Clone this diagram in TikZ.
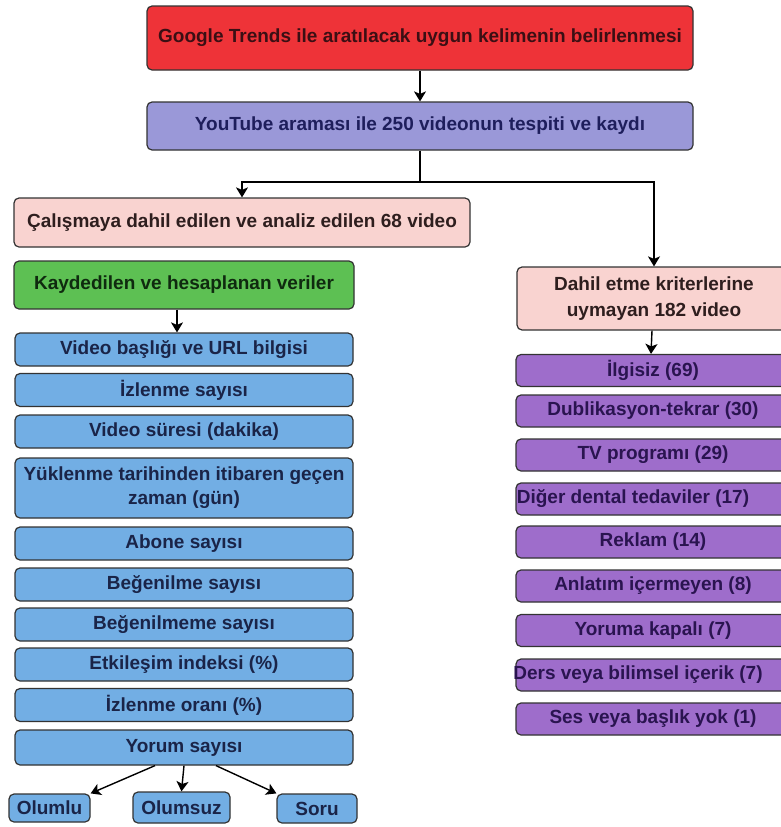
\documentclass[tikz,border=0pt]{standalone}
\usepackage{fontspec}
\setmainfont{Liberation Sans}
\usetikzlibrary{arrows.meta}

\definecolor{redfill}{HTML}{EE3338}
\definecolor{ytfill}{HTML}{9A98D8}
\definecolor{pinkfill}{HTML}{F9D3D0}
\definecolor{greenfill}{HTML}{5DC053}
\definecolor{bluefill}{HTML}{72AEE4}
\definecolor{purplefill}{HTML}{9E6DCB}
\definecolor{redtext}{HTML}{3B0F14}
\definecolor{yttext}{HTML}{1E1E5C}
\definecolor{pinktext}{HTML}{2E1E1E}
\definecolor{greentext}{HTML}{0F2A0F}
\definecolor{bluetext}{HTML}{1A2448}
\definecolor{purpletext}{HTML}{2A1450}

\begin{document}
\begin{tikzpicture}[x=1pt, y=-1pt,
        box/.style={draw=black!80, line width=1.2pt, rounded corners=5pt, align=center, inner sep=2pt,
            font=\fontsize{19}{24}\selectfont\bfseries},
        redbox/.style={box, fill=redfill, text=redtext, minimum width=546, minimum height=64},
        ytbox/.style={box, fill=ytfill, text=yttext, minimum width=546, minimum height=48},
        pinkbox/.style={box, fill=pinkfill, text=pinktext},
        greenbox/.style={box, fill=greenfill, text=greentext, minimum width=340, minimum height=48},
        bluebox/.style={box, fill=bluefill, text=bluetext, minimum width=338, minimum height=33},
        purplebox/.style={box, fill=purplefill, text=purpletext, minimum width=274, minimum height=32},
        smallbox/.style={box, fill=bluefill, text=bluetext, minimum height=29},
        link/.style={line width=1.4pt},
        arrow/.style={link, -{Stealth[length=10pt, width=12pt, inset=2.5pt]}}]
        \useasboundingbox[fill=white] (0,0) rectangle (780,827);

        % top
        \node[redbox] (google) at (420,38) {Google Trends ile aratılacak uygun kelimenin belirlenmesi};
        \node[ytbox] (youtube) at (420,126) {YouTube araması ile 250 videonun tespiti ve kaydı};
        \node[pinkbox, minimum width=456, minimum height=49] (dahil) at (242,222.5) {Çalışmaya dahil edilen ve analiz edilen 68 video};
        \node[pinkbox, minimum width=274, minimum height=63] (haric) at (654,298.5) {Dahil etme kriterlerine\\[2pt] uymayan 182 video};
        \node[greenbox] (veri) at (184,285) {Kaydedilen ve hesaplanan veriler};

        % left list
        \node[bluebox] (v1) at (184,349.5) {Video başlığı ve URL bilgisi};
        \node[bluebox] (v2) at (184,390) {İzlenme sayısı};
        \node[bluebox] (v3) at (184,431.5) {Video süresi (dakika)};
        \node[bluebox, minimum height=60] (v4) at (184,488) {Yüklenme tarihinden itibaren geçen\\ zaman (gün)};
        \node[bluebox] (v5) at (184,543.5) {Abone sayısı};
        \node[bluebox] (v6) at (184,584.5) {Beğenilme sayısı};
        \node[bluebox] (v7) at (184,624.5) {Beğenilmeme sayısı};
        \node[bluebox] (v8) at (184,664.5) {Etkileşim indeksi (\%)};
        \node[bluebox] (v9) at (184,705) {İzlenme oranı (\%)};
        \node[bluebox, minimum height=35] (v10) at (184,747.5) {Yorum sayısı};
        \node[smallbox, minimum width=81, minimum height=28] (olumlu) at (49.5,808) {Olumlu};
        \node[smallbox, minimum width=97, minimum height=31] (olumsuz) at (181.5,807.5) {Olumsuz};
        \node[smallbox, minimum width=80] (soru) at (317,808.5) {Soru};

        % right list
        \node[purplebox] (r1) at (653,370.5) {İlgisiz (69)};
        \node[purplebox] (r2) at (653,411) {Dublikasyon-tekrar (30)};
        \node[purplebox] (r3) at (653,455) {TV programı (29)};
        \node[purplebox] (r4) at (653,499) {\makebox[0pt]{\hspace*{-40pt}Diğer dental tedaviler (17)}};
        \node[purplebox] (r5) at (653,542) {Reklam (14)};
        \node[purplebox] (r6) at (653,586) {Anlatım içermeyen (8)};
        \node[purplebox] (r7) at (653,630.5) {Yoruma kapalı (7)};
        \node[purplebox] (r8) at (653,675) {\makebox[0pt]{\hspace*{-30pt}Ders veya bilimsel içerik (7)}};
        \node[purplebox] (r9) at (653,719) {Ses veya başlık yok (1)};

        % arrows
        \coordinate (split) at (420,182);
        \draw[arrow] (google) -- (youtube);
        \draw[link] (youtube) -- (split);
        \draw[arrow] (split) -| (dahil.north);
        \draw[arrow] (split) -| (haric.north);
        \draw[arrow] ([xshift=-7pt]veri.south) -- ([xshift=-7pt]v1.north);
        \draw[arrow] ([xshift=-2pt]haric.south) -- ([xshift=-2pt]r1.north);
        \draw[arrow] ([xshift=-29pt]v10.south) -- (olumlu.north east);
        \draw[arrow] (v10.south) -- (olumsuz.north);
        \draw[arrow] ([xshift=32pt]v10.south) -- (soru.north west);
    \end{tikzpicture}
\end{document}
